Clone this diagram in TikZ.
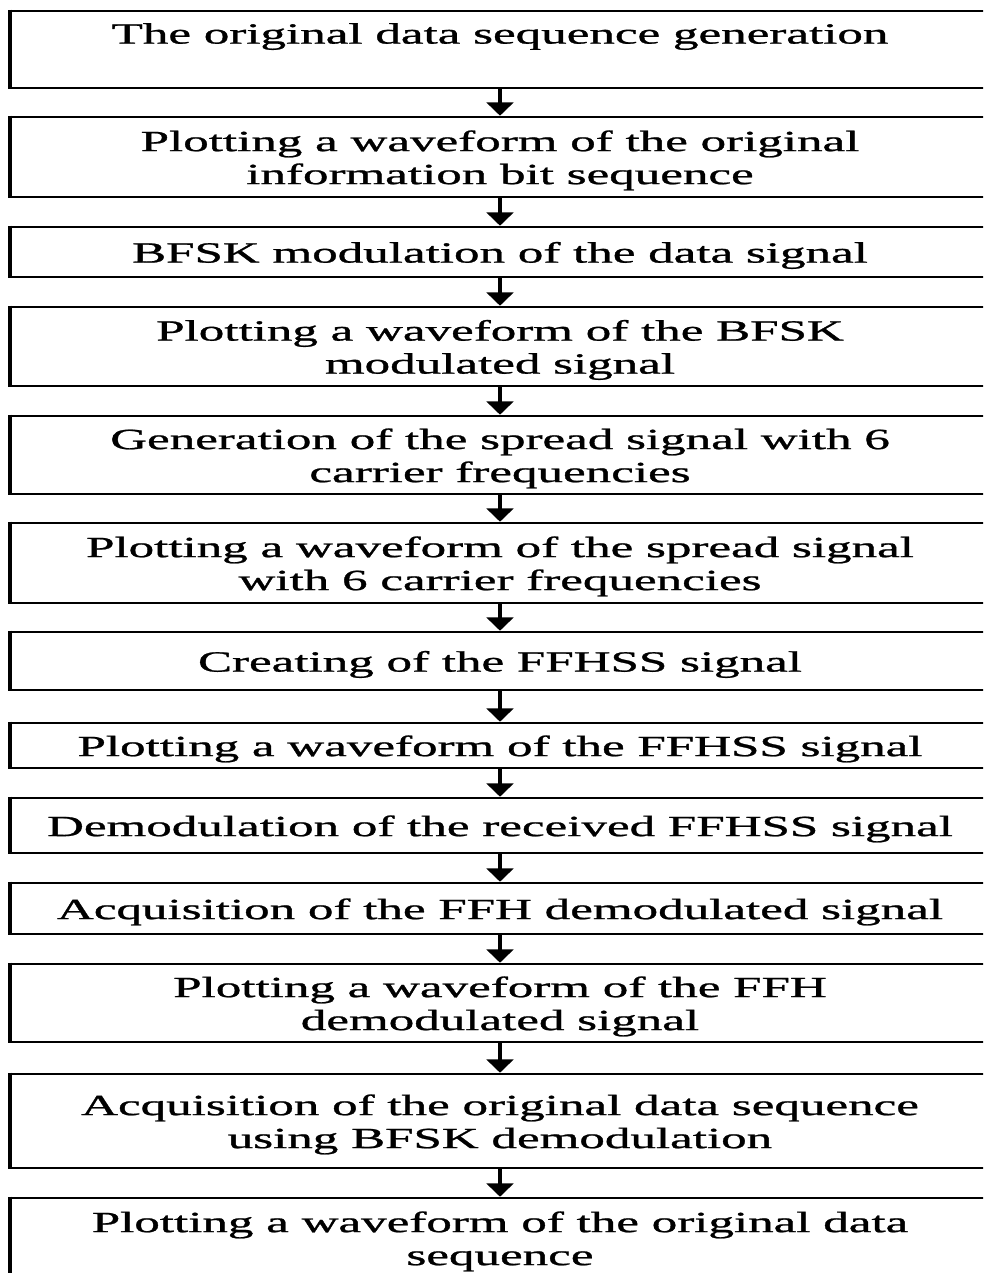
\documentclass[tikz,border=0pt]{standalone}
\usepackage{fontspec}
\setmainfont{Liberation Serif}
\newfontfamily\boxfont{Liberation Serif}[FakeBold=0.8]
\usepackage{graphicx}
\usetikzlibrary{arrows.meta}
\newcommand\widetext[1]{\raisebox{-3pt}[\height][\depth]{\scalebox{1.74}[1]{\begin{tabular}{@{}c@{}}#1\end{tabular}}}}
\tikzset{
  stepbox/.style = {draw, line width=1.9pt, rectangle, inner sep=0pt,
                    minimum width=733.5pt, font=\boxfont\fontsize{22}{24.75}\selectfont},
  leftedge/.style = {line width=3.2pt},
  flow/.style    = {-{Triangle[length=10pt,width=20pt]}, line width=3pt},
}

\begin{document}
\begin{tikzpicture}[x=0.75pt,y=-0.75pt]
\useasboundingbox (0,0) rectangle (983,1273);
\clip (0,0) rectangle (983,1273);
% boxes: index / centre y / height (px) / text
\foreach \n/\yc/\hgt/\txt in {
  1/49.5/77/{The original data sequence generation\\ ~},
  2/157/80/{Plotting a waveform of the original\\information bit sequence},
  3/252/50/{BFSK modulation of the data signal},
  4/346.5/79/{Plotting a waveform of the BFSK\\modulated signal},
  5/455/78/{Generation of the spread signal with 6\\carrier frequencies},
  6/563/80/{Plotting a waveform of the spread signal\\with 6 carrier frequencies},
  7/661/58/{Creating of the FFHSS signal},
  8/745.5/45/{Plotting a waveform of the FFHSS signal},
  9/825.5/55/{Demodulation of the received FFHSS signal},
  10/908.5/51/{Acquisition of the FFH demodulated signal},
  11/1003/78/{Plotting a waveform of the FFH\\demodulated signal},
  12/1121/94/{Acquisition of the original data sequence\\using BFSK demodulation},
  13/1238/80/{Plotting a waveform of the original data\\sequence}}{
  \node[stepbox, minimum height=\hgt*0.75pt] (b\n) at (500,\yc) {\widetext{\txt}};
  \draw[leftedge] (b\n.north west) -- (b\n.south west);}
% arrows between consecutive boxes
\foreach \n [evaluate=\n as \m using int(\n+1)] in {1,...,12}
  \draw[flow] (b\n.south) -- (b\m.north);
\end{tikzpicture}
\end{document}
